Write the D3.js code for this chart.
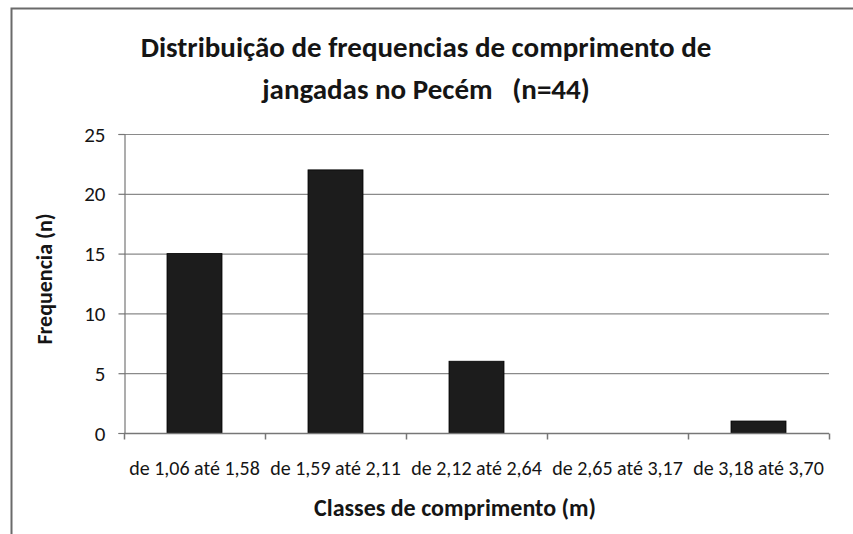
<!DOCTYPE html>
<html>
<head>
<meta charset="utf-8">
<script src="https://cdn.jsdelivr.net/npm/d3@7"></script>
<style>
html,body{margin:0;padding:0;background:#fff;}
svg{display:block;}
text{font-family:Carlito,Lato,sans-serif;fill:#151515;}
</style>
</head>
<body>
<svg id="chart" width="853" height="534"></svg>
<script>
const categories = ["de 1,06 até 1,58","de 1,59 até 2,11","de 2,12 até 2,64","de 2,65 até 3,17","de 3,18 até 3,70"];
const values = [15, 22, 6, 0, 1];
const yTicks = [0, 5, 10, 15, 20, 25];
const titleLines = ["Distribuição de frequencias de comprimento de", "jangadas no Pecém   (n=44)"];
const yTitle = "Frequencia (n)";
const xTitle = "Classes de comprimento (m)";

const svg = d3.select("#chart");
const W = 853, H = 534;
const m = {left:124, right:853-829, top:134, bottom:534-433};
const FONT = "Carlito,Lato,sans-serif";

// outer frame (left and top only)
svg.append("path").attr("d", `M11.5,${H} L11.5,8.5 L${W},8.5`)
  .attr("fill","none").attr("stroke","#6a6a6a").attr("stroke-width",2);

const x = d3.scaleBand().domain(categories).range([m.left, W - m.right]).paddingInner(0.61).paddingOuter(0.305);
const y = d3.scaleLinear().domain([0,25]).range([H - m.bottom, m.top]);

// gridlines
svg.append("g").selectAll("line").data(yTicks.filter(d=>d>0)).join("line")
  .attr("x1", m.left).attr("x2", W - m.right)
  .attr("y1", d=>y(d)+0.5).attr("y2", d=>y(d)+0.5)
  .attr("stroke","#8a8a8a").attr("stroke-width",1.2);

// bars
svg.append("g").selectAll("rect").data(values).join("rect")
  .attr("x",(d,i)=>x(categories[i]))
  .attr("width", x.bandwidth())
  .attr("y", d=>y(d))
  .attr("height", d=>y(0)-y(d))
  .attr("fill","#1c1c1c").attr("stroke","#000").attr("stroke-width",0.8);

// y axis
const yAxis = svg.append("g").attr("transform",`translate(${m.left+0.5},0)`)
  .call(d3.axisLeft(y).tickValues(yTicks).tickSize(6).tickPadding(13));
yAxis.attr("font-size",21).attr("font-family",FONT);
yAxis.select(".domain").attr("stroke","#777").attr("stroke-width",1.2);
yAxis.selectAll(".tick line").attr("stroke","#777").attr("stroke-width",1.2);
yAxis.selectAll(".tick text").attr("fill","#151515").attr("dy","0.34em");

// x axis with boundary ticks
const xg = svg.append("g").attr("transform",`translate(0,${y(0)+0.5})`);
const xb = d3.scalePoint().domain(d3.range(categories.length+1)).range([m.left, W - m.right]);
xg.append("line").attr("x1",m.left).attr("x2",W-m.right).attr("stroke","#777").attr("stroke-width",1.5);
xg.selectAll(".bt").data(xb.domain()).join("line").attr("class","bt")
  .attr("x1",d=>xb(d)+0.5).attr("x2",d=>xb(d)+0.5).attr("y1",0).attr("y2",6)
  .attr("stroke","#777").attr("stroke-width",1.5);
xg.selectAll(".lbl").data(categories).join("text").attr("class","lbl")
  .attr("x", d=>x(d)+x.bandwidth()/2).attr("y", 41)
  .attr("text-anchor","middle").style("font-size","20px")
  .text(d=>d);

// titles
svg.append("g").selectAll("text").data(titleLines).join("text")
  .attr("x", 426).attr("y",(d,i)=>57 + i*42)
  .attr("text-anchor","middle").style("font-size","29px").style("font-weight","bold")
  .attr("xml:space","preserve").style("white-space","pre")
  .text(d=>d);

svg.append("text").attr("transform",`translate(52,279) rotate(-90)`)
  .attr("text-anchor","middle").style("font-size","22px").style("font-weight","bold")
  .text(yTitle);

svg.append("text").attr("x",455).attr("y",516)
  .attr("text-anchor","middle").style("font-size","24px").style("font-weight","bold")
  .text(xTitle);
</script>
</body>
</html>
